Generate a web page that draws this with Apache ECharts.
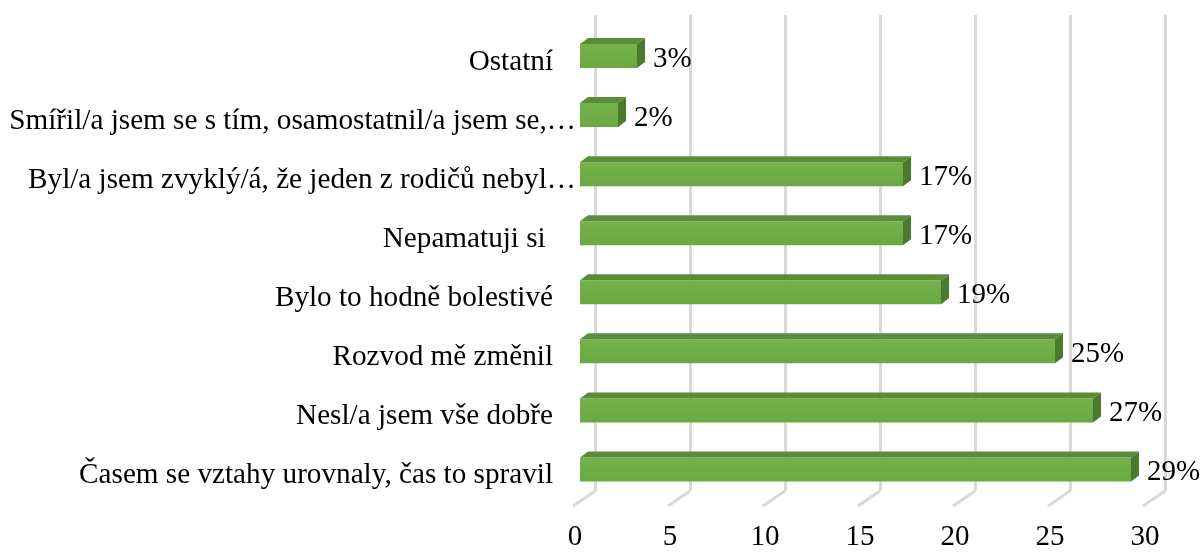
<!DOCTYPE html>
<html>
<head>
<meta charset="utf-8">
<script src="https://cdn.jsdelivr.net/npm/echarts@6/dist/echarts.min.js"></script>
<style>
  html, body { margin: 0; padding: 0; background: #fff; }
  #chart { width: 1201px; height: 552px; }
</style>
</head>
<body>
<div id="chart"></div>
<script>
// categories top to bottom, as shown
var categories = [
  'Ostatní',
  'Smířil/a jsem se s tím, osamostatnil/a jsem se,…',
  'Byl/a jsem zvyklý/á, že jeden z rodičů nebyl…',
  'Nepamatuji si ',
  'Bylo to hodně bolestivé',
  'Rozvod mě změnil',
  'Nesl/a jsem vše dobře',
  'Časem se vztahy urovnaly, čas to spravil'
]
var values = [3, 2, 17, 17, 19, 25, 27, 29]
var ticks = [0, 5, 10, 15, 20, 25, 30]

var FONT = '"Liberation Serif", "Times New Roman", serif'
var FS = 29
var CAT_FS = 29.2

var chart = echarts.init(document.getElementById('chart'))

function renderBar(params, api) {
  var idx = api.value(1)
  var start = api.coord([0, idx])
  var end = api.coord([api.value(0), idx])
  var h = 24
  var dx = 8
  var dy = 6
  var x0 = start[0]
  var x1 = end[0]
  var yt = start[1] - h / 2 - 2
  var yb = yt + h
  return {
    type: 'group',
    children: [
      {
        type: 'rect',
        shape: { x: x0, y: yt, width: x1 - x0, height: h },
        style: {
          fill: new echarts.graphic.LinearGradient(0, 0, 0, 1, [
            { offset: 0, color: '#75b24b' },
            { offset: 1, color: '#6aa842' }
          ])
        }
      },
      {
        type: 'polygon',
        shape: { points: [[x0, yt], [x0 + dx, yt - dy], [x1 + dx, yt - dy], [x1, yt]] },
        style: { fill: '#5b8c3b' }
      },
      {
        type: 'polygon',
        shape: { points: [[x1, yt], [x1 + dx, yt - dy], [x1 + dx, yb - dy], [x1, yb]] },
        style: { fill: '#4a7a2d' }
      },
      {
        type: 'text',
        style: {
          x: x1 + dx + 8,
          y: yt + h / 2 + 3,
          text: api.value(0) + '%',
          font: FS + 'px ' + FONT,
          fill: '#000',
          verticalAlign: 'middle',
          align: 'left'
        }
      }
    ]
  }
}

function renderFloor(params, api) {
  var p = api.coord([api.value(0), 0])
  return {
    type: 'line',
    shape: { x1: p[0], y1: p[1], x2: p[0] - 22, y2: p[1] + 15 },
    style: { stroke: '#d9d9d9', lineWidth: 3 }
  }
}

var option = {
  animation: false,
  backgroundColor: '#fff',
  grid: [
    { left: 580, right: 51, top: 28.5, bottom: 51 },
    { left: 595, right: 36, top: 15, bottom: 61 }
  ],
  xAxis: [
    {
      gridIndex: 0,
      type: 'value',
      min: 0,
      max: 30,
      interval: 5,
      axisLine: { show: false },
      axisTick: { show: false },
      splitLine: { show: false },
      axisLabel: {
        margin: 22,
        padding: [0, 10, 0, 0],
        fontFamily: FONT,
        fontSize: FS,
        color: '#000'
      }
    },
    {
      gridIndex: 1,
      type: 'value',
      min: 0,
      max: 30,
      interval: 5,
      axisLine: { show: false },
      axisTick: { show: false },
      axisLabel: { show: false },
      splitLine: { show: true, lineStyle: { color: '#d9d9d9', width: 3 } }
    }
  ],
  yAxis: [
    {
      gridIndex: 0,
      type: 'category',
      inverse: true,
      data: categories,
      axisLine: { show: false },
      axisTick: { show: false },
      axisLabel: {
        margin: 4,
        padding: [8, 0, 0, 0],
        fontFamily: FONT,
        fontSize: CAT_FS,
        color: '#000',
        formatter: function(v) {
          if (v.slice(-1) === '…') return v
          return '{p|' + v + '}'
        },
        rich: {
          p: { fontFamily: FONT, fontSize: CAT_FS, color: '#000', padding: [0, 23, 0, 0] }
        }
      }
    },
    {
      gridIndex: 1,
      type: 'value',
      min: 0,
      max: 1,
      show: false
    }
  ],
  series: [
    {
      type: 'custom',
      xAxisIndex: 1,
      yAxisIndex: 1,
      renderItem: renderFloor,
      encode: { x: 0 },
      data: ticks.map(function(t) { return [t] }),
      silent: true,
      z: 1
    },
    {
      type: 'custom',
      xAxisIndex: 0,
      yAxisIndex: 0,
      renderItem: renderBar,
      encode: { x: 0, y: 1 },
      data: values.map(function(v, i) { return [v, i] }),
      z: 3
    }
  ]
}

chart.setOption(option)
</script>
</body>
</html>
